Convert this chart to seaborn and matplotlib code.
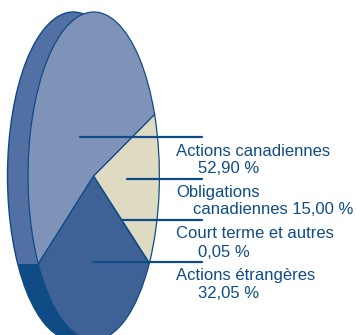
import numpy as np
import pandas as pd
import matplotlib
matplotlib.use("Agg")
import matplotlib.pyplot as plt
from matplotlib.patches import Ellipse, Rectangle
import seaborn as sns

shares = [52.90, 32.05, 0.05, 15.00]
slice_colors = ["#7f93b9", "#3e6295", "#3e6295", "#dfdbc3"]
side_upper = "#5270a3"
side_lower = "#0f4c85"
ink = "#0f4c85"
label_lines = [
    ("Actions canadiennes", 176, 156), ("52,90 %", 198, 173),
    ("Obligations", 176, 197), ("canadiennes 15,00 %", 193, 214),
    ("Court terme et autres", 176, 238), ("0,05 %", 198, 257),
    ("Actions étrangères", 176, 280), ("32,05 %", 198, 298),
]
leaders = [(80, 202, 137), (127, 202, 179), (122, 202, 219.5), (93, 202, 261.5)]

W, H = 356, 335
CX, CY, RX, RY = 93.7, 176, 65.7, 164
SHIFT = 20.5
START = 22


def dx(px):
    return (np.asarray(px, dtype=float) - CX) / RX


def dy(py):
    return (CY - np.asarray(py, dtype=float)) / RY


sns.set_theme(style="white")
plt.rcParams["font.family"] = ["Liberation Sans", "DejaVu Sans"]

fig = plt.figure(figsize=(W / 100, H / 100), dpi=100)
ax = fig.add_axes([0, 0, 1, 1])

# extruded back of the disc: colour changes where the first slice ends
split_y = np.sin(np.deg2rad(START + shares[0] * 3.6))
back_c = -SHIFT / RX
for col, y0, y1 in [(side_upper, split_y, 2), (side_lower, -2, split_y)]:
    e = Ellipse((back_c, 0), 2, 2, facecolor=col, edgecolor=ink, linewidth=1.0, zorder=1)
    ax.add_patch(e)
    e.set_clip_path(Rectangle((-3, y0), 8, y1 - y0, transform=ax.transData))

ax.pie(shares, colors=slice_colors, startangle=START, counterclock=True, radius=1,
       wedgeprops=dict(edgecolor=ink, linewidth=0.9, zorder=2))
ax.set_aspect("auto")

seg = pd.DataFrame(
    [dict(x=float(dx(p)), y=float(dy(y)), leader=i)
     for i, (a, b, y) in enumerate(leaders) for p in (a, b)]
)
sns.lineplot(data=seg, x="x", y="y", units="leader", estimator=None, color=ink,
             linewidth=1.6, ax=ax, legend=False, zorder=3, sort=False)

for txt, px, py in label_lines:
    ax.text(float(dx(px)), float(dy(py)), txt, color=ink, fontsize=12.0,
            ha="left", va="baseline", zorder=4)

ax.set_xlim(dx(0), dx(W))
ax.set_ylim(dy(H), dy(0))
ax.set_axis_off()
fig.savefig("out.png", dpi=100)
